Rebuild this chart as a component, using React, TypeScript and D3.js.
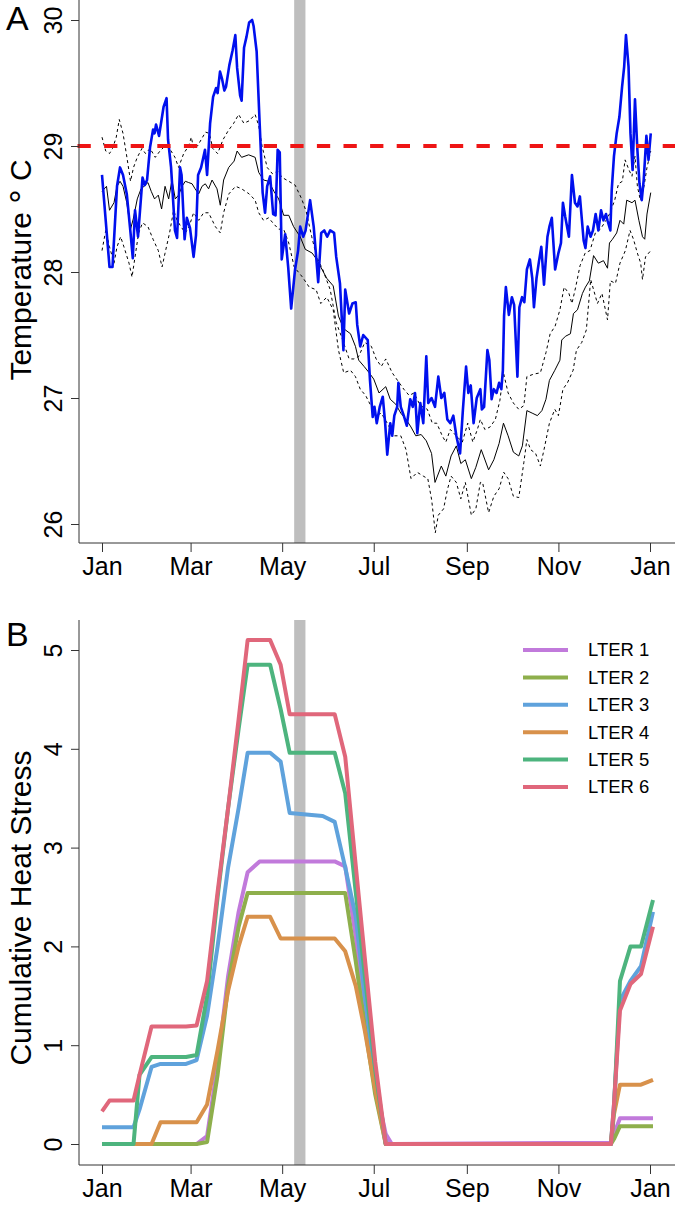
import React, { useEffect, useRef } from 'react';
import * as d3 from 'd3';

// panel A: [day of year, temperature °C]
const observed: [number, number][] = [
  [0, 28.77], [5, 28.04], [7, 28.04], [10, 28.68], [12, 28.83], [14, 28.77], [16.5, 28.62], [19, 28.31],
  [20.5, 28.11], [22, 28.49], [24, 28.28], [27, 28.75], [28.5, 28.69], [30, 28.73], [32, 28.99], [34, 29.13],
  [35, 29.1], [36, 29.17], [38, 29.08], [41, 29.31], [43, 29.38], [44, 29.05], [46, 28.83], [48.6, 28.33],
  [50, 28.27], [52, 28.83], [53, 28.77], [55, 28.26], [56.5, 28.43], [58.6, 28.35], [61, 28.12], [62.6, 28.29],
  [64, 28.77], [66, 28.83], [68.6, 28.97], [70, 28.77], [72, 29.18], [74, 29.39], [76, 29.46], [77, 29.42],
  [78.6, 29.59], [80, 29.53], [81.5, 29.44], [82.6, 29.47], [84.8, 29.64], [87, 29.76], [88.8, 29.88], [90, 29.62],
  [92, 29.4], [93, 29.36], [94.6, 29.78], [96.3, 29.87], [98, 29.98], [100, 30.0], [101, 29.95], [103, 29.75],
  [105, 29.18], [107, 28.63], [108.6, 28.47], [110, 28.68], [112, 28.76], [114, 28.46], [115.6, 28.45], [117, 28.97],
  [118.4, 28.95], [119.7, 28.1], [122, 28.3], [124, 28.04], [126, 27.71], [128.6, 28.02], [130.6, 28.17], [132, 28.36],
  [134, 28.28], [135.6, 28.33], [138.6, 28.57], [141, 28.36], [143, 28.07], [144, 27.92], [146, 28.31], [148, 28.33],
  [150, 28.28], [152, 28.33], [154.6, 28.31], [156, 28.12], [158.5, 27.91], [160.8, 27.38], [162, 27.86], [164.6, 27.67],
  [166.8, 27.75], [169, 27.76], [170, 27.58], [172, 27.41], [174, 27.5], [177, 27.46], [178.5, 27.14], [180.3, 26.85],
  [181.5, 26.93], [183, 26.8], [185, 26.93], [187, 27.01], [188.6, 26.8], [190, 26.55], [192, 26.8], [193.3, 26.7],
  [194.7, 26.86], [196.6, 26.93], [197.4, 27.12], [199, 26.93], [201, 26.86], [203, 26.78], [205.3, 26.99], [207, 26.93],
  [208.5, 27.04], [210, 26.72], [212, 26.96], [214, 26.8], [216, 27.33], [217.3, 26.96], [219.5, 27.0], [221.8, 26.93],
  [224, 27.17], [226, 27.0], [228, 27.04], [230, 26.83], [232, 26.8], [234, 26.86], [236, 26.7], [238.5, 26.56],
  [240.4, 26.91], [242.5, 27.25], [244, 27.04], [245.6, 27.1], [247.5, 26.8], [249.6, 27.0], [252, 27.07], [253, 26.91],
  [254.5, 26.93], [256.7, 27.38], [258, 27.3], [259.5, 26.99], [261, 27.07], [262.8, 27.04], [264.5, 27.12], [266, 27.07],
  [267, 27.22], [267.8, 27.65], [269, 27.88], [271, 27.66], [273, 27.8], [274.5, 27.74], [276.7, 27.17], [278, 27.72],
  [279.8, 27.8], [281.3, 27.76], [283, 28.02], [285, 28.1], [286.6, 27.95], [287.7, 27.72], [289.4, 27.95], [291, 28.08],
  [292.6, 28.2], [294.4, 27.9], [296.7, 28.28], [298, 28.36], [299.6, 28.43], [301.8, 28.02], [304, 28.15], [305.7, 28.23],
  [307, 28.55], [308.5, 28.44], [311, 28.28], [313, 28.77], [315, 28.55], [316.7, 28.52], [318.3, 28.6], [320.8, 28.25],
  [322, 28.19], [323.5, 28.36], [325.4, 28.28], [327, 28.33], [328.8, 28.46], [330.6, 28.33], [332.4, 28.49], [334, 28.41],
  [335.7, 28.46], [336.7, 28.41], [338.6, 28.33], [339.5, 28.65], [341, 28.92], [342.8, 29.1], [344.6, 29.23], [346.4, 29.47],
  [347.8, 29.63], [349, 29.88], [350.7, 29.63], [352, 29.1], [353.4, 28.81], [355, 29.37], [356.6, 28.97], [358, 28.7],
  [359.5, 28.57], [360.8, 28.73], [362.6, 29.08], [364, 28.89], [365.5, 29.1],
];

const climMean: [number, number][] = [
  [0, 28.64], [3, 28.68], [5, 28.49], [8, 28.55], [10, 28.68], [12, 28.72], [14, 28.68], [16.5, 28.55], [19, 28.34],
  [20.8, 28.42], [23.5, 28.58], [26, 28.66], [28, 28.68], [30.6, 28.71], [32.8, 28.64], [35, 28.58], [37.5, 28.61],
  [39.7, 28.5], [42, 28.68], [44.4, 28.58], [46.6, 28.73], [48.8, 28.58], [51, 28.61], [53.3, 28.68], [55.5, 28.72],
  [57.7, 28.71], [60, 28.7], [62, 28.66], [64.4, 28.62], [66.6, 28.68], [68.8, 28.7], [71, 28.66], [73.3, 28.73],
  [76.6, 28.66], [78.8, 28.53], [81, 28.73], [84.4, 28.83], [88, 28.88], [90, 28.96], [93, 28.91], [97.7, 28.93],
  [102, 28.91], [104.4, 28.79], [107.6, 28.73], [111, 28.72], [114.5, 28.64], [117.7, 28.58], [121, 28.45], [124.4, 28.45],
  [127.6, 28.36], [132, 28.28], [135.4, 28.18], [140, 28.15], [143, 28.1], [149.7, 27.95], [154, 27.89], [157.5, 27.65],
  [161, 27.55], [165.5, 27.51], [168.8, 27.41], [171, 27.3], [174.6, 27.25], [178, 27.2], [181, 27.15], [184.5, 27.04],
  [189, 27.09], [192, 26.99], [195.7, 26.95], [199, 26.88], [202.5, 26.83], [205.8, 26.77], [209, 26.7], [212.6, 26.71],
  [216, 26.66], [219.5, 26.56], [221.8, 26.33], [226, 26.46], [229, 26.38], [232.5, 26.54], [236, 26.62], [239, 26.48],
  [242, 26.51], [246, 26.36], [249, 26.45], [252.6, 26.59], [257.5, 26.43], [261, 26.51], [264.5, 26.64], [267.4, 26.8],
  [270.5, 26.7], [274, 26.57], [277.6, 26.54], [280, 26.62], [283, 26.9], [286.5, 26.88], [290, 26.86], [293, 26.9],
  [295.7, 26.99], [298, 27.14], [301.6, 27.22], [305, 27.3], [306.2, 27.46], [308.7, 27.49], [312, 27.51], [314, 27.67],
  [316.7, 27.7], [320, 27.83], [322, 27.88], [324.6, 27.93], [327.4, 28.13], [330.6, 28.07], [334, 28.09], [336.7, 28.03],
  [338, 28.23], [340, 28.26], [342.8, 28.31], [345, 28.41], [347.5, 28.38], [349.5, 28.57], [353, 28.55], [355, 28.57],
  [357.6, 28.41], [360, 28.28], [361.5, 28.26], [363, 28.46], [365.5, 28.63],
];

const climUpper: [number, number][] = [
  [0, 29.07], [2.5, 28.96], [5, 28.94], [7, 28.98], [9.5, 29.07], [11.5, 29.21], [14, 29.1], [16.6, 28.91], [19, 28.72],
  [21, 28.83], [23.5, 28.91], [26.6, 28.98], [29, 28.94], [32, 28.98], [35.5, 28.91], [38.6, 28.96], [42, 29.0],
  [45, 28.98], [48.6, 28.91], [51, 28.83], [54.4, 28.94], [57.7, 29.0], [59.5, 29.07], [61, 28.98], [63.6, 29.0],
  [67, 29.07], [69, 29.11], [71.5, 29.1], [73.8, 28.98], [77, 28.94], [80.6, 29.05], [84, 29.12], [87.7, 29.18],
  [91, 29.25], [94.5, 29.18], [98, 29.2], [102, 29.25], [104.4, 29.16], [106.6, 29.0], [110, 28.83], [113.5, 28.78],
  [117, 28.8], [120, 28.75], [124.4, 28.72], [128.6, 28.69], [133, 28.58], [136, 28.48], [139.7, 28.28], [143, 28.12],
  [147, 28.02], [152, 27.86], [156, 27.6], [160, 27.47], [164.6, 27.31], [167.8, 27.31], [171, 27.33], [175, 27.44],
  [179.4, 27.41], [182.6, 27.31], [186, 27.25], [189, 27.31], [193.3, 27.2], [198, 27.12], [201, 27.07], [204.6, 27.02],
  [207.8, 27.04], [212, 26.94], [216.7, 26.91], [220, 26.8], [223, 26.8], [226.6, 26.7], [229, 26.65], [232, 26.75],
  [236, 26.7], [240, 26.65], [243.6, 26.8], [247, 26.65], [250, 26.75], [252, 26.83], [255, 26.75], [258.5, 26.77],
  [262, 26.83], [265, 26.98], [267.4, 27.2], [270.5, 27.04], [274, 26.96], [277.6, 26.91], [281, 26.94], [283, 27.17],
  [287.7, 27.19], [292, 27.2], [295.7, 27.36], [298.5, 27.51], [301.8, 27.57], [305, 27.7], [307.8, 27.88], [311, 27.83],
  [313, 27.75], [315.5, 27.88], [318.4, 28.05], [321.8, 28.15], [325, 28.17], [328.6, 28.31], [332, 28.34], [335.7, 28.41],
  [338, 28.46], [341.5, 28.57], [344, 28.7], [346.6, 28.72], [348.4, 28.89], [351, 28.81], [353, 28.76], [355, 28.92],
  [356.6, 28.68], [358.6, 28.57], [361, 28.68], [363, 28.83], [365.5, 28.96],
];

const climLower: [number, number][] = [
  [0, 28.17], [2.5, 28.33], [5, 28.2], [8, 28.07], [10, 28.2], [12.4, 28.28], [14.6, 28.2], [18, 28.07], [20, 27.96],
  [22, 28.12], [24.4, 28.31], [27, 28.39], [30.6, 28.36], [34, 28.26], [37.5, 28.17], [40, 28.04], [42, 28.15],
  [45, 28.31], [47.7, 28.49], [50, 28.41], [52.6, 28.36], [55.5, 28.31], [58, 28.36], [61, 28.47], [64.4, 28.41],
  [67.7, 28.47], [71, 28.47], [75.5, 28.36], [78.8, 28.31], [81, 28.47], [84.5, 28.62], [89, 28.68], [93, 28.66],
  [98, 28.62], [102, 28.57], [104.4, 28.47], [107.6, 28.41], [111, 28.43], [114.5, 28.38], [117.7, 28.34], [121, 28.34],
  [124.4, 28.23], [128, 28.04], [133.5, 27.96], [138, 27.88], [142.6, 27.86], [145.7, 27.75], [149.7, 27.8], [154, 27.7],
  [157.5, 27.38], [161, 27.2], [165.5, 27.22], [168.8, 27.17], [172, 27.07], [175.6, 27.02], [179, 26.94], [182.6, 26.86],
  [186, 26.88], [190, 26.8], [194.6, 26.7], [199, 26.7], [202.5, 26.59], [205.8, 26.36], [210, 26.41], [214, 26.38],
  [217, 26.36], [219.6, 26.19], [222, 25.93], [224, 26.07], [227.5, 26.12], [230, 26.27], [232.5, 26.38], [236, 26.33],
  [239, 26.2], [242, 26.33], [246, 26.07], [249, 26.12], [252, 26.33], [253.5, 26.33], [257.5, 26.09], [261, 26.22],
  [264.5, 26.28], [267.6, 26.41], [270.5, 26.36], [274, 26.22], [277.6, 26.21], [281, 26.49], [283, 26.67], [285.5, 26.59],
  [288.8, 26.56], [292, 26.46], [294.4, 26.59], [298, 26.8], [301.6, 26.91], [304, 26.86], [307, 27.07], [310, 27.12],
  [313.8, 27.22], [316, 27.38], [319.5, 27.44], [322.6, 27.54], [325.5, 27.94], [327.4, 27.86], [330, 27.75], [333, 27.83],
  [336.7, 27.62], [338.6, 27.93], [342, 27.91], [345, 28.07], [348.6, 28.17], [351.7, 28.33], [354, 28.26], [356.6, 28.15],
  [358.8, 28.07], [360, 27.94], [362, 28.12], [365.5, 28.17],
];

const bleachingThreshold = 29;
const surveyWindow = [128, 135.5]; // days of year

const monthDays = [0, 59, 120, 181, 243, 304, 365];
const monthLabels = ['Jan', 'Mar', 'May', 'Jul', 'Sep', 'Nov', 'Jan'];
const tempTicks = [26, 27, 28, 29, 30];
const stressTicks = [0, 1, 2, 3, 4, 5];

// panel B: cumulative heat stress per site
const stressDays = [0, 5, 12, 21, 25, 33, 39, 56, 63, 70, 77, 84, 91, 97, 105, 112, 119, 125, 147, 155, 162, 169, 175, 182, 189, 193, 305, 339, 341, 345, 352, 359, 367];
const lter1 = [0, 0, 0, 0, 0, 0, 0, 0, 0, 0.08, 0.8, 1.7, 2.35, 2.75, 2.86, 2.86, 2.86, 2.86, 2.86, 2.86, 2.81, 2.1, 1.35, 0.6, 0.1, 0, 0.01, 0.01, 0.1, 0.26, 0.26, 0.26, 0.26];
const lter2 = [0, 0, 0, 0, 0, 0, 0, 0, 0, 0.02, 0.7, 1.6, 2.2, 2.54, 2.54, 2.54, 2.54, 2.54, 2.54, 2.54, 2.54, 1.85, 1.2, 0.5, 0, 0, 0, 0, 0.05, 0.18, 0.18, 0.18, 0.18];
const lter3 = [0.17, 0.17, 0.17, 0.17, 0.35, 0.78, 0.81, 0.81, 0.85, 1.3, 2.0, 2.8, 3.4, 3.96, 3.96, 3.96, 3.87, 3.35, 3.32, 3.26, 2.8, 2.3, 1.5, 0.7, 0, 0, 0, 0, 0.4, 1.45, 1.65, 1.8, 2.35];
const lter4 = [0, 0, 0, 0, 0, 0, 0.22, 0.22, 0.22, 0.4, 0.95, 1.55, 2.0, 2.3, 2.3, 2.3, 2.08, 2.08, 2.08, 2.08, 1.95, 1.6, 1.15, 0.55, 0, 0, 0, 0, 0.3, 0.6, 0.6, 0.6, 0.65];
const lter5 = [0, 0, 0, 0, 0.7, 0.88, 0.88, 0.88, 0.9, 1.5, 2.5, 3.4, 4.2, 4.85, 4.85, 4.85, 4.4, 3.96, 3.96, 3.96, 3.55, 2.55, 1.71, 0.75, 0, 0, 0, 0, 0.35, 1.65, 2.0, 2.0, 2.47];
const lter6 = [0.33, 0.44, 0.44, 0.44, 0.7, 1.19, 1.19, 1.19, 1.2, 1.65, 2.55, 3.4, 4.3, 5.1, 5.1, 5.1, 4.85, 4.35, 4.35, 4.35, 3.92, 2.82, 1.89, 0.83, 0, 0, 0, 0, 0.4, 1.35, 1.62, 1.72, 2.2];
const siteNames = ['LTER 1', 'LTER 2', 'LTER 3', 'LTER 4', 'LTER 5', 'LTER 6'];
const siteColors = ['#C17ADB', '#8EAF4C', '#5FA2DC', '#D8914B', '#4DB47E', '#E0677B'];

const FONT = 'Liberation Sans, Arial, Helvetica, sans-serif';

const App = () => {
  const ref = useRef<SVGSVGElement>(null);

  useEffect(() => {
    const svg = d3.select(ref.current);
    svg.selectAll('*').remove();

    const left = 79;
    const right = 675;
    const x = d3.scaleLinear().domain([0, 365]).range([102, 650]);

    const styleAxis = (g: any) => {
      g.select('.domain').remove();
      g.selectAll('line').attr('stroke', '#333').attr('stroke-width', 1);
      g.selectAll('text').attr('fill', '#000').style('font-family', FONT).style('font-size', '25px');
    };

    const drawXAxis = (bottom: number) => {
      const g = svg.append('g')
        .attr('transform', `translate(0,${bottom})`)
        .call(d3.axisBottom(x).tickValues(monthDays).tickSize(9)
          .tickFormat((d, i) => monthLabels[i]));
      styleAxis(g);
      g.selectAll('text').attr('y', 32).attr('dy', 0);
    };

    const drawYAxis = (y: d3.ScaleLinear<number, number>, ticks: number[]) => {
      const g = svg.append('g')
        .attr('transform', `translate(${left},0)`)
        .call(d3.axisLeft(y).tickValues(ticks).tickSize(8).tickFormat(d3.format('d')));
      styleAxis(g);
      g.selectAll('text')
        .attr('transform', 'rotate(-90)')
        .attr('x', 0).attr('y', -17).attr('dy', 0)
        .attr('text-anchor', 'middle');
    };

    const frame = (top: number, bottom: number) => {
      svg.append('path')
        .attr('d', `M${left},${top}V${bottom}H${right}`)
        .attr('fill', 'none').attr('stroke', '#333').attr('stroke-width', 1);
    };

    // ---------- panel A ----------
    const yA = d3.scaleLinear().domain([26, 30]).range([524, 20]);
    const topA = 0;
    const bottomA = 543;

    svg.append('rect')
      .attr('x', x(surveyWindow[0])).attr('width', x(surveyWindow[1]) - x(surveyWindow[0]))
      .attr('y', topA).attr('height', bottomA - topA)
      .attr('fill', '#BEBEBE');

    const lineA = d3.line<[number, number]>().x(d => x(d[0])).y(d => yA(d[1]));

    [climUpper, climLower].forEach(s => {
      svg.append('path').attr('d', lineA(s)).attr('fill', 'none')
        .attr('stroke', '#000').attr('stroke-width', 1).attr('stroke-dasharray', '3,3');
    });
    svg.append('path').attr('d', lineA(climMean)).attr('fill', 'none')
      .attr('stroke', '#000').attr('stroke-width', 1);
    svg.append('path').attr('d', lineA(observed)).attr('fill', 'none')
      .attr('stroke', '#0010EE').attr('stroke-width', 2.6).attr('stroke-linejoin', 'round');

    svg.append('line')
      .attr('x1', 77.5).attr('x2', right)
      .attr('y1', yA(bleachingThreshold)).attr('y2', yA(bleachingThreshold))
      .attr('stroke', '#EE1515').attr('stroke-width', 4).attr('stroke-dasharray', '13.3,13.3');

    frame(topA, bottomA);
    drawXAxis(bottomA);
    drawYAxis(yA, tempTicks);

    const titleA = svg.append('text')
      .attr('transform', `translate(31,270) rotate(-90)`)
      .attr('text-anchor', 'middle')
      .style('font-family', FONT).style('font-size', '30px');
    titleA.append('tspan').text('Temperature ');
    titleA.append('tspan').text('°').style('font-size', '36px').attr('dy', 5);
    titleA.append('tspan').text(' C').attr('dy', -5);

    svg.append('text').attr('x', 6).attr('y', 30).text('A')
      .style('font-family', FONT).style('font-size', '34px');

    // ---------- panel B ----------
    const yB = d3.scaleLinear().domain([0, 5]).range([1144, 650]);
    const topB = 620;
    const bottomB = 1165;

    svg.append('rect')
      .attr('x', x(surveyWindow[0])).attr('width', x(surveyWindow[1]) - x(surveyWindow[0]))
      .attr('y', topB).attr('height', bottomB - topB)
      .attr('fill', '#BEBEBE');

    const sites = [lter1, lter2, lter3, lter4, lter5, lter6];
    const lineB = d3.line<number>().x((d, i) => x(stressDays[i])).y(d => yB(d));
    sites.forEach((vals, k) => {
      svg.append('path').attr('d', lineB(vals)).attr('fill', 'none')
        .attr('stroke', siteColors[k]).attr('stroke-width', 4)
        .attr('stroke-linejoin', 'round');
    });

    frame(topB, bottomB);
    drawXAxis(bottomB);
    drawYAxis(yB, stressTicks);

    svg.append('text')
      .attr('transform', `translate(31,908) rotate(-90)`)
      .attr('text-anchor', 'middle')
      .style('font-family', FONT).style('font-size', '30px')
      .text('Cumulative Heat Stress');

    svg.append('text').attr('x', 6).attr('y', 646).text('B')
      .style('font-family', FONT).style('font-size', '34px');

    const legend = svg.append('g');
    siteNames.forEach((name, k) => {
      const ly = 650 + k * 27.4;
      legend.append('line').attr('x1', 523).attr('x2', 568).attr('y1', ly).attr('y2', ly)
        .attr('stroke', siteColors[k]).attr('stroke-width', 4);
      legend.append('text').attr('x', 588).attr('y', ly).attr('dy', '0.35em').text(name)
        .style('font-family', FONT).style('font-size', '18.5px');
    });
  }, []);

  return (
    <svg ref={ref} width={677} height={1205}
      style={{ position: 'absolute', left: 0, top: 0, background: '#fff' }} />
  );
};

export default App;
